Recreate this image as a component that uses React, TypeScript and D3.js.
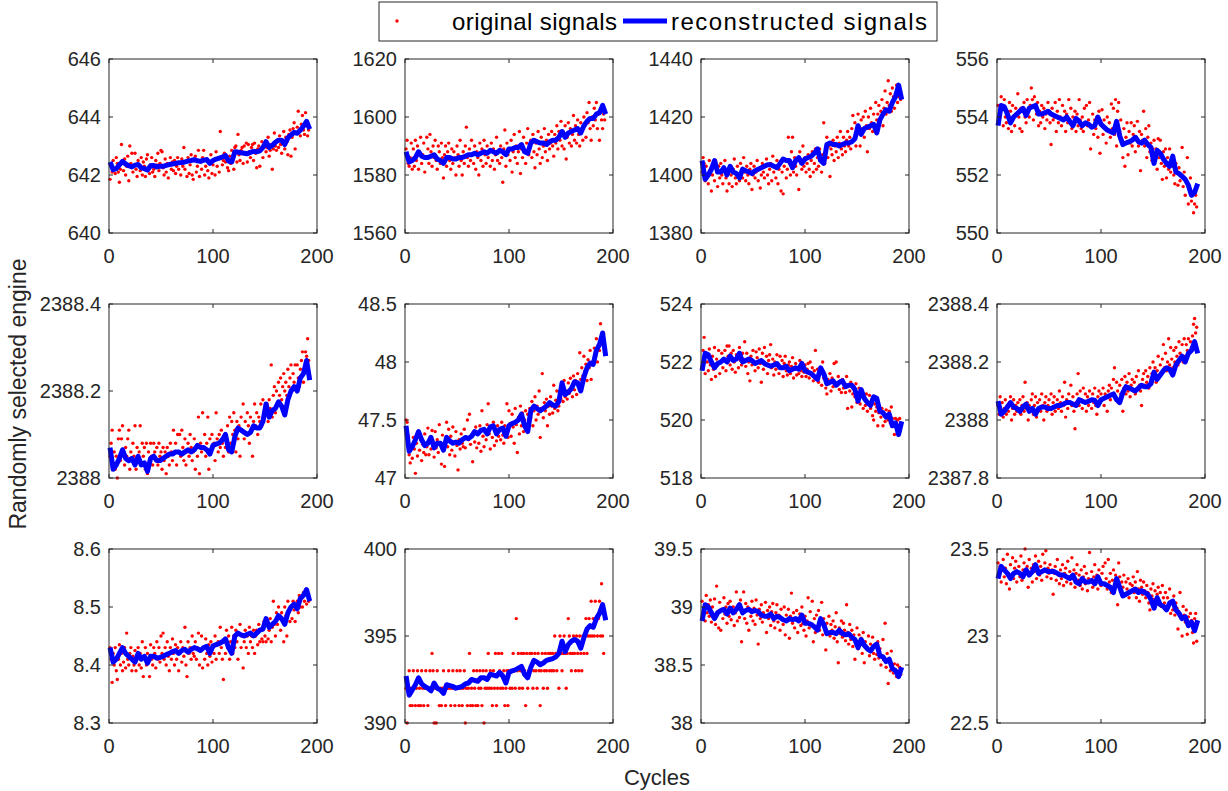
import React from 'react';
import * as d3 from 'd3';

// ---------- data ----------
const xTicks = [0, 100, 200];
const legendLabels = ['original signals', 'reconstructed signals'];
const xLabel = 'Cycles';
const yLabel = 'Randomly selected engine';

// reconstructed signals sampled at cycles 1,4,7,...,193
const blue1 = [642.45,642.18,642.22,642.35,642.47,642.38,642.32,642.28,642.34,642.36,642.25,642.22,642.17,642.32,642.33,642.28,642.30,642.30,642.33,642.36,642.38,642.40,642.42,642.43,642.45,642.48,642.50,642.53,642.49,642.47,642.51,642.53,642.40,642.50,642.55,642.58,642.62,642.67,642.48,642.45,642.80,642.79,642.77,642.75,642.73,642.78,642.82,642.80,642.83,642.95,643.15,642.95,643.02,643.13,643.20,643.20,643.05,643.28,643.38,643.47,643.44,643.55,643.68,643.85,643.58];
const blue2 = [1588,1584.5,1585,1586,1588,1586.5,1586,1586,1586.5,1587,1585.5,1585,1584,1586,1586,1585.5,1585.5,1586,1586,1586.5,1587,1587,1587.5,1587,1587.5,1588,1587.5,1588.5,1588,1587.5,1588.5,1588,1587,1589,1589,1589.5,1589.5,1590.5,1588,1587.5,1591,1592,1591.5,1591,1591,1590.5,1591.5,1592,1592,1593,1595,1593,1594.5,1595,1595.5,1596,1594.5,1597,1598.5,1599.5,1599.5,1601,1601.5,1604,1601];
const blue3 = [1405,1398.5,1400,1402,1405,1401,1401,1402.5,1400,1403,1401,1400.5,1399,1402,1401.5,1401,1400.5,1401.5,1402,1402.5,1403,1403.5,1403.5,1403,1402.5,1404,1405.5,1405,1405,1402.5,1405,1406,1404,1405.5,1406,1406.5,1407.5,1409,1405,1404,1410.5,1411,1410.5,1410.5,1410,1410.5,1411,1411,1411.5,1412.5,1417,1414,1416,1416.5,1417,1417.5,1414.5,1419,1421,1422.5,1422,1425,1427,1431,1426];
const blue4 = [553.7,554.4,554.35,554.1,553.8,554.0,554.1,554.2,554.3,554.05,554.3,554.35,554.4,554.1,554.1,554.15,554.2,554.1,554.05,554.0,553.95,553.9,554.0,553.85,553.7,553.95,553.85,553.7,553.8,553.75,553.65,553.7,554.0,553.75,553.65,553.55,553.5,553.45,553.85,553.35,553.05,553.1,553.15,553.2,553.3,553.15,553.1,553.2,553.05,552.95,552.4,552.85,552.75,552.55,552.4,552.3,552.65,552.1,552.05,551.95,551.85,551.65,551.3,551.4,551.7];
const blue5 = [2388.07,2388.02,2388.03,2388.045,2388.065,2388.045,2388.04,2388.045,2388.03,2388.05,2388.03,2388.035,2388.015,2388.045,2388.05,2388.04,2388.04,2388.045,2388.05,2388.055,2388.055,2388.06,2388.06,2388.055,2388.06,2388.065,2388.06,2388.065,2388.075,2388.07,2388.07,2388.065,2388.055,2388.075,2388.078,2388.08,2388.088,2388.1,2388.065,2388.06,2388.095,2388.115,2388.11,2388.105,2388.1,2388.105,2388.12,2388.115,2388.115,2388.13,2388.17,2388.14,2388.155,2388.16,2388.175,2388.165,2388.145,2388.18,2388.2,2388.21,2388.2,2388.23,2388.24,2388.27,2388.225];
const blue6 = [47.45,47.23,47.27,47.33,47.4,47.33,47.28,47.3,47.35,47.26,47.3,47.3,47.24,47.35,47.32,47.3,47.31,47.3,47.33,47.35,47.34,47.36,47.4,47.38,47.41,47.42,47.38,47.44,47.45,47.38,47.42,47.43,47.36,47.45,47.47,47.48,47.5,47.55,47.45,47.4,47.58,47.62,47.6,47.58,47.6,47.62,47.65,47.63,47.62,47.66,47.82,47.72,47.74,47.77,47.83,47.82,47.75,47.87,47.95,47.99,47.98,48.1,48.15,48.25,48.05];
const blue7 = [521.7,522.3,522.25,522.0,521.8,521.95,522.0,522.1,522.0,522.2,522.05,522.1,522.3,522.0,522.05,522.1,522.05,521.95,522.0,522.05,521.95,521.9,521.85,521.9,521.95,521.8,521.8,521.85,521.7,521.75,521.8,521.75,521.95,521.7,521.65,521.6,521.5,521.4,521.8,521.6,521.25,521.3,521.35,521.2,521.3,521.35,521.15,521.2,521.2,521.05,520.65,521.05,520.75,520.6,520.5,520.8,520.75,520.3,520.25,520.1,520.2,519.8,519.9,519.5,519.95];
const blue8 = [2388.065,2388.02,2388.03,2388.045,2388.06,2388.045,2388.04,2388.03,2388.045,2388.055,2388.03,2388.04,2388.02,2388.04,2388.045,2388.045,2388.04,2388.04,2388.045,2388.05,2388.05,2388.055,2388.06,2388.06,2388.055,2388.05,2388.07,2388.065,2388.06,2388.065,2388.07,2388.068,2388.05,2388.07,2388.075,2388.08,2388.085,2388.09,2388.07,2388.06,2388.095,2388.115,2388.11,2388.105,2388.1,2388.11,2388.12,2388.115,2388.115,2388.125,2388.165,2388.14,2388.155,2388.17,2388.18,2388.175,2388.155,2388.19,2388.205,2388.22,2388.2,2388.23,2388.24,2388.27,2388.23];
const blue9 = [8.43,8.405,8.41,8.42,8.43,8.42,8.415,8.41,8.405,8.42,8.41,8.415,8.403,8.415,8.415,8.412,8.413,8.415,8.418,8.42,8.423,8.425,8.42,8.425,8.427,8.422,8.427,8.43,8.428,8.425,8.43,8.432,8.42,8.433,8.435,8.437,8.44,8.445,8.43,8.42,8.45,8.455,8.452,8.45,8.453,8.455,8.45,8.455,8.46,8.462,8.48,8.465,8.47,8.475,8.485,8.48,8.47,8.49,8.5,8.505,8.497,8.515,8.52,8.53,8.51];
const blue10 = [392.7,391.6,391.9,392.2,392.6,392.25,392.1,392.0,391.85,392.3,392.0,391.9,391.7,392.2,392.15,392.1,392.0,392.05,392.1,392.25,392.3,392.5,392.45,392.4,392.6,392.6,392.5,392.8,392.75,392.7,392.9,392.7,392.3,392.9,393.0,393.05,393.15,393.25,392.8,392.6,393.2,393.6,393.5,393.35,393.45,393.6,393.65,393.7,393.8,394.0,394.7,394.1,394.5,394.7,394.8,394.7,394.3,394.9,395.4,395.6,395.5,396.0,396.3,396.8,395.9];
const blue11 = [38.88,39.02,39.0,38.95,38.9,38.95,38.97,38.98,38.94,38.99,38.95,38.98,39.02,38.95,38.97,38.98,38.96,38.97,38.96,38.93,38.92,38.92,38.94,38.9,38.92,38.91,38.89,38.88,38.9,38.89,38.9,38.88,38.93,38.86,38.86,38.85,38.83,38.8,38.9,38.85,38.77,38.78,38.78,38.77,38.8,38.77,38.76,38.77,38.74,38.72,38.65,38.72,38.67,38.64,38.62,38.66,38.68,38.58,38.57,38.53,38.55,38.47,38.45,38.4,38.48];
const blue12 = [23.33,23.4,23.38,23.36,23.33,23.36,23.37,23.36,23.34,23.38,23.35,23.37,23.41,23.36,23.37,23.38,23.37,23.37,23.37,23.36,23.35,23.35,23.34,23.33,23.35,23.31,23.3,23.33,23.31,23.31,23.32,23.3,23.34,23.3,23.3,23.29,23.28,23.25,23.33,23.28,23.23,23.24,23.25,23.26,23.27,23.25,23.26,23.25,23.24,23.21,23.16,23.22,23.18,23.17,23.15,23.19,23.2,23.15,23.13,23.1,23.11,23.06,23.08,23.03,23.09];

// original signals at cycles 1..192
const red1 = [641.85,642.3,642.1,642.5,642.2,642.05,642.6,642.4,642.1,641.75,
642.2,643.05,642.4,642.15,642.55,642.0,642.3,642.65,641.8,643.0,
642.4,642.75,642.1,642.3,642.75,642.2,641.95,642.5,642.35,642.15,
642.6,642.0,642.45,642.3,641.95,642.55,642.7,642.2,642.05,642.35,
642.6,642.1,642.2,641.95,642.5,642.35,642.75,642.15,642.4,642.85,
642.8,642.25,642.0,642.55,642.1,642.4,641.9,642.35,642.6,642.2,
642.45,642.15,642.5,642.05,642.3,642.6,642.2,642.4,642.0,642.55,
642.3,642.95,642.2,642.45,641.95,642.6,642.05,642.35,642.7,642.0,
641.85,642.5,642.65,642.1,642.3,642.85,641.95,642.45,642.2,642.6,
642.85,642.0,642.3,642.55,642.15,641.9,642.45,642.7,642.05,642.35,
642.5,642.0,642.8,642.3,642.55,642.1,643.5,642.6,642.35,642.5,
642.75,642.45,642.6,642.25,642.15,642.65,642.4,642.85,642.55,642.2,
642.95,643.0,642.45,643.4,642.7,642.5,642.85,642.95,642.4,643.0,
642.75,643.1,642.45,643.05,642.8,642.6,642.95,643.05,642.5,643.1,
642.75,642.25,642.9,643.0,642.3,642.85,643.15,642.6,642.95,643.05,
642.8,642.95,643.3,642.65,642.85,643.05,642.2,642.9,643.45,643.0,
642.85,643.15,642.95,643.35,643.05,642.75,643.2,643.5,642.9,643.3,
643.15,642.7,643.4,643.55,642.65,643.3,643.6,643.8,642.9,643.45,
643.65,644.2,643.5,643.35,643.75,644.05,643.55,643.4,644.15,643.7,
643.35,643.55];
const red2 = [1589,1592,1584,1583,1586,1591,1582,1589,1583,1592,
1585,1590,1582,1588,1593,1584,1587,1591,1581,1586,
1593,1589,1584,1594,1588,1583,1590,1586,1592,1585,
1582,1590,1588,1584,1591,1586,1579,1587,1590,1583,
1588,1591,1585,1582,1589,1584,1588,1586,1580,1590,
1587,1583,1592,1585,1580,1588,1584,1590,1596.5,1586,
1583,1589,1585,1592,1587,1584,1590,1582,1588,1586,
1580,1591,1585,1589,1583,1592,1587,1584,1590,1586,
1588,1583,1591,1585,1589,1582,1587,1593,1585,1588,
1584,1590,1586,1577.5,1589,1595.5,1583,1591,1587,1589,
1585,1592,1581,1588,1594,1586,1590,1584,1588,1595,
1580.5,1589,1586,1593,1588,1584,1591,1596,1587,1590,
1592,1586,1594,1588,1582.5,1591,1587,1595,1589,1584,
1593,1586,1590,1596,1588,1592,1585,1594,1589,1591,
1595,1590,1586.5,1594,1591,1597,1589,1595,1592,1598.5,
1590,1595,1589,1597,1585.5,1593,1598,1591,1596,1590,
1594,1600.5,1592,1597,1591,1599,1594,1590,1598,1596,
1592,1600,1597,1593,1601.5,1598,1605,1596,1592,1600,
1597,1603,1599,1605,1596,1601,1592,1602,1599,1596,
1601,1599];
const red3 = [1401,1406,1404,1398,1403,1400,1397,1405,1402,1394.5,
1400,1403,1398,1405,1401,1396,1403,1399,1404,1400,
1397,1402,1405,1399,1394.5,1401,1397,1403,1400,1396,
1402,1405.5,1399,1397,1403,1400,1398,1404,1401,1399,
1406,1401,1398,1403,1400,1397,1402,1404,1395,1400,
1403,1399,1401,1405,1398,1402,1395.5,1400,1404,1401,
1399,1403,1405.5,1400,1397,1402,1404,1398,1406.5,1401,
1403,1399,1405,1397,1402,1404,1394.5,1401,1393.5,1403,
1405,1399,1402,1413,1404,1400,1408,1413,1401,1406,
1403,1400,1405,1395,1408,1404,1402,1410,1403,1406,
1401,1404,1407,1402,1399.5,1405,1408,1401,1404,1409,
1402,1406,1403,1409,1405,1401,1407,1418,1404,1409,
1413,1406,1410,1399.5,1409,1407,1412,1405,1410,1408,
1413,1406,1411,1415,1409,1407,1413,1410,1408,1412,
1415,1410,1413,1409,1416,1420.5,1412,1418,1410,1414,
1421,1415,1410,1419,1416,1420,1413,1422,1417,1408,
1420,1416,1423,1418,1415,1421,1417,1425,1419,1421,
1424,1418,1422,1426,1417,1423,1429,1421,1425,1432.5,
1424,1428,1422,1430,1427,1423,1428,1431,1425,1427,
1429,1426];
const red4 = [554.4,553.9,554.1,554.7,554.3,553.7,554.6,554.0,553.8,554.2,
553.6,554.5,554.2,553.5,554.4,554.0,553.7,554.3,554.1,554.8,
554.0,553.6,554.3,553.5,554.2,554.5,554.0,553.8,554.6,554.2,
554.0,554.4,555.0,554.6,553.9,554.7,554.3,554.1,554.5,553.7,
554.2,553.8,554.4,554.0,554.3,553.6,554.1,553.9,554.5,554.2,
553.8,553.05,554.3,553.9,554.0,554.5,553.5,554.2,553.8,554.6,
554.0,553.7,554.4,553.9,554.2,553.5,554.1,553.8,554.6,553.9,
554.3,553.6,554.0,553.8,554.2,553.5,554.1,553.7,554.6,553.9,
553.6,554.0,553.5,554.3,553.8,554.4,553.7,553.9,554.5,552.9,
553.7,554.1,553.4,553.9,553.6,554.0,553.3,554.2,552.75,553.8,
554.25,553.4,553.9,553.6,553.1,554.0,553.5,553.8,553.3,554.45,
553.6,554.3,553.4,554.6,553.0,554.2,554.5,553.5,553.9,553.2,
552.6,553.6,552.3,553.3,553.8,552.7,553.5,553.1,553.8,553.0,
553.4,553.7,552.8,553.3,553.85,553.0,553.5,552.15,553.4,553.2,
554.2,553.0,553.6,552.6,553.3,553.7,552.8,553.1,552.5,552.9,
553.2,552.5,552.9,552.2,553.25,552.6,553.2,552.4,551.85,552.8,
552.3,552.9,551.9,552.6,552.2,552.9,552.1,552.5,552.3,552.0,
551.7,552.4,552.15,551.65,552.25,551.8,552.0,552.95,551.6,552.1,
551.3,551.8,552.6,551.0,551.5,551.9,551.1,551.4,550.7,551.0,
551.3,550.9];
const red5 = [2388.05,2388.08,2388.11,2388.03,2388.06,2388.02,2388.05,2388.0,2388.09,2388.11,
2388.04,2388.09,2388.12,2388.06,2388.03,2388.07,2388.05,2388.09,2388.11,2388.02,
2388.06,2388.04,2388.08,2388.05,2388.12,2388.02,2388.07,2388.04,2388.06,2388.12,
2388.03,2388.08,2388.05,2388.07,2388.02,2388.08,2388.01,2388.06,2388.04,2388.08,
2388.05,2388.03,2388.08,2388.06,2388.04,2388.07,2388.03,2388.08,2388.05,2388.06,
2388.02,2388.07,2388.04,2388.06,2388.01,2388.07,2388.05,2388.03,2388.08,2388.06,
2388.04,2388.11,2388.06,2388.08,2388.03,2388.1,2388.06,2388.1,2388.05,2388.11,
2388.07,2388.04,2388.09,2388.03,2388.06,2388.08,2388.05,2388.1,2388.07,2388.04,
2388.06,2388.09,2388.02,2388.07,2388.05,2388.14,2388.01,2388.08,2388.06,2388.15,
2388.07,2388.1,2388.05,2388.08,2388.14,2388.02,2388.09,2388.06,2388.1,2388.07,
2388.08,2388.04,2388.15,2388.09,2388.06,2388.1,2388.07,2388.11,2388.08,2388.05,
2388.1,2388.07,2388.09,2388.12,2388.06,2388.14,2388.08,2388.13,2388.1,2388.15,
2388.11,2388.06,2388.13,2388.09,2388.12,2388.05,2388.14,2388.11,2388.17,2388.09,
2388.13,2388.1,2388.15,2388.12,2388.08,2388.14,2388.11,2388.05,2388.13,2388.17,
2388.12,2388.15,2388.1,2388.14,2388.13,2388.17,2388.12,2388.18,2388.14,2388.16,
2388.15,2388.17,2388.13,2388.18,2388.16,2388.26,2388.14,2388.19,2388.21,2388.15,
2388.2,2388.17,2388.22,2388.19,2388.23,2388.18,2388.21,2388.24,2388.2,2388.22,
2388.19,2388.25,2388.21,2388.23,2388.26,2388.2,2388.24,2388.22,2388.26,2388.21,
2388.26,2388.23,2388.21,2388.25,2388.27,2388.29,2388.22,2388.25,2388.29,2388.28,
2388.32,2388.27];
const red6 = [47.5,47.48,47.36,47.2,47.13,47.28,47.17,47.35,47.25,47.04,
47.3,47.19,47.4,47.24,47.33,47.15,47.29,47.22,47.38,47.2,
47.27,47.43,47.2,47.35,47.25,47.41,47.31,47.18,47.4,47.26,
47.33,47.22,47.46,47.3,47.12,47.37,47.24,47.1,47.3,47.48,
47.27,47.42,47.2,47.36,47.24,47.44,47.3,47.19,47.4,47.28,
47.07,47.33,47.25,47.38,47.3,47.27,47.42,47.26,47.35,47.5,
47.33,47.55,47.29,47.37,47.14,47.4,47.31,47.44,47.26,47.38,
47.3,47.45,47.23,47.58,47.36,47.27,47.42,47.33,47.46,47.64,
47.38,47.25,47.44,47.35,47.48,47.28,47.4,47.32,47.45,47.36,
47.42,47.33,47.48,47.37,47.3,47.45,47.4,47.64,47.35,47.58,
47.47,47.36,47.55,47.44,47.3,47.6,47.46,47.22,47.52,47.38,
47.62,47.45,47.56,47.4,47.5,47.58,47.42,47.55,47.48,47.6,
47.52,47.66,47.45,47.58,47.7,47.5,47.62,47.55,47.75,47.35,
47.6,47.9,47.52,47.65,47.58,47.68,47.45,47.62,47.55,47.7,
47.62,47.56,47.8,47.6,47.67,47.75,47.58,47.62,47.72,47.68,
47.78,47.66,47.84,47.7,47.75,47.68,47.82,47.73,47.86,47.78,
47.7,47.88,47.76,47.84,47.72,47.9,47.8,48.08,47.85,47.95,
47.88,48.05,47.92,47.98,47.84,48.02,47.95,48.1,47.85,48.0,
47.98,48.12,48.05,48.2,48.0,48.15,48.1,48.33,48.22,48.18,
48.25,48.1];
const red7 = [521.8,522.4,522.85,521.6,522.3,522.0,521.7,522.45,521.9,521.4,
522.2,521.75,522.5,521.5,522.1,521.9,522.4,521.6,522.0,522.3,
521.8,522.1,522.4,521.7,522.55,522.2,522.55,521.9,522.3,521.75,
522.4,522.0,521.65,522.25,522.1,521.8,522.5,522.05,521.9,522.3,
522.1,522.7,521.85,522.3,521.6,522.0,521.35,522.2,521.9,522.4,
522.0,521.7,522.35,522.15,521.8,522.45,521.95,521.3,522.3,521.75,
522.5,521.9,522.2,521.6,522.05,522.25,522.6,521.8,522.1,521.55,
522.0,521.75,522.25,521.9,521.6,522.2,521.8,522.05,521.5,521.95,
522.2,521.7,521.55,521.9,522.0,521.6,521.85,522.15,521.45,521.75,
521.95,521.55,521.8,521.6,522.05,521.7,521.5,521.85,521.65,521.9,
521.5,521.75,521.95,521.45,522.0,521.6,521.8,521.35,521.7,522.4,
521.5,521.75,521.3,521.6,521.8,521.2,522.0,521.45,521.55,521.1,
520.9,521.4,521.25,521.6,521.0,521.45,521.15,521.95,521.3,522.0,
521.2,521.5,521.05,521.35,520.95,521.4,521.1,521.25,520.95,521.5,
520.4,521.2,521.0,521.3,520.45,520.9,521.15,520.8,521.25,520.6,
520.95,521.1,520.55,520.85,521.0,520.4,520.75,520.5,520.9,520.3,
520.6,520.85,520.4,520.7,520.15,520.0,520.55,520.3,520.45,519.8,
520.25,520.35,520.1,520.4,519.8,520.2,519.95,520.35,520.1,520.0,
520.3,519.9,520.45,520.05,519.85,519.5,520.05,519.8,520.0,519.55,
520.05,519.9];
const red8 = [2388.05,2388.02,2388.08,2388.03,2388.06,2388.01,2388.04,2388.07,2388.02,2388.05,
2388.03,2388.06,2388.08,2388.0,2388.04,2388.07,2388.02,2388.05,2388.03,2388.06,
2388.04,2388.07,2388.02,2388.05,2388.08,2388.03,2388.13,2388.04,2388.06,2388.0,
2388.05,2388.03,2388.07,2388.09,2388.02,2388.05,2388.08,2388.01,2388.06,2388.04,
2388.07,2388.03,2388.09,2388.05,2388.0,2388.06,2388.08,2388.03,2388.05,2388.07,
2388.04,2388.09,2388.02,2388.06,2388.08,2388.03,2388.05,2388.07,2388.04,2388.1,
2388.06,2388.03,2388.08,2388.05,2388.13,2388.01,2388.07,2388.04,2388.09,2388.06,
2388.12,2388.05,2388.08,2388.03,2387.97,2388.06,2388.09,2388.16,2388.05,2388.1,
2388.07,2388.04,2388.11,2388.06,2388.09,2388.03,2388.08,2388.05,2388.1,2388.07,
2388.04,2388.09,2388.06,2388.11,2388.05,2388.02,2388.08,2388.1,2388.06,2388.09,
2388.07,2388.11,2388.05,2388.09,2388.08,2388.03,2388.1,2388.12,2388.07,2388.11,
2388.09,2388.14,2388.18,2388.08,2388.13,2388.1,2388.06,2388.12,2388.09,2388.14,
2388.03,2388.11,2388.15,2388.09,2388.13,2388.1,2388.16,2388.08,2388.12,2388.14,
2388.1,2388.13,2388.09,2388.15,2388.11,2388.17,2388.12,2388.1,2388.05,2388.14,
2388.16,2388.12,2388.17,2388.13,2388.15,2388.11,2388.18,2388.14,2388.16,2388.2,
2388.15,2388.18,2388.13,2388.17,2388.22,2388.15,2388.19,2388.16,2388.21,2388.26,
2388.18,2388.23,2388.17,2388.2,2388.28,2388.19,2388.25,2388.21,2388.18,2388.24,
2388.2,2388.25,2388.22,2388.19,2388.27,2388.23,2388.21,2388.26,2388.2,2388.28,
2388.22,2388.26,2388.24,2388.28,2388.23,2388.27,2388.25,2388.29,2388.33,2388.35,
2388.3,2388.32];
const red9 = [8.43,8.41,8.37,8.42,8.4,8.43,8.39,8.375,8.41,8.435,
8.4,8.42,8.39,8.405,8.43,8.395,8.455,8.41,8.4,8.42,
8.43,8.39,8.415,8.4,8.425,8.39,8.41,8.43,8.4,8.42,
8.395,8.44,8.38,8.415,8.43,8.4,8.42,8.41,8.38,8.435,
8.41,8.4,8.43,8.42,8.395,8.44,8.41,8.43,8.405,8.45,
8.42,8.455,8.41,8.43,8.4,8.44,8.415,8.39,8.43,8.41,
8.445,8.42,8.4,8.435,8.41,8.43,8.39,8.42,8.44,8.405,
8.43,8.415,8.465,8.4,8.38,8.44,8.42,8.43,8.41,8.45,
8.42,8.415,8.44,8.41,8.43,8.455,8.4,8.425,8.45,8.395,
8.43,8.41,8.445,8.42,8.4,8.435,8.415,8.44,8.405,8.43,
8.42,8.45,8.41,8.435,8.44,8.42,8.465,8.43,8.41,8.375,
8.44,8.42,8.46,8.43,8.45,8.41,8.44,8.465,8.42,8.45,
8.43,8.46,8.44,8.41,8.455,8.47,8.43,8.45,8.395,8.44,
8.46,8.43,8.45,8.42,8.465,8.44,8.45,8.43,8.46,8.42,
8.45,8.46,8.435,8.47,8.44,8.46,8.445,8.44,8.475,8.45,
8.44,8.47,8.445,8.46,8.48,8.44,8.465,8.51,8.47,8.45,
8.49,8.47,8.5,8.48,8.46,8.49,8.475,8.44,8.5,8.485,
8.45,8.51,8.49,8.475,8.5,8.48,8.51,8.495,8.475,8.5,
8.51,8.49,8.52,8.5,8.515,8.5,8.525,8.51,8.53,8.505,
8.52,8.51];
const red10 = [392,390,392,393,391,392,391,393,392,391,
392,393,391,392,391,393,392,391,392,393,
392,391,392,393,392,394,393,390,392,390,
393,392,391,392,391,392,393,392,391,392,
392,393,392,391,392,393,392,391,392,393,
392,391,393,392,391,392,393,390,392,391,
392,394,391,392,391,393,392,391,393,391,
392,393,392,391,393,390,392,393,392,394,
392,393,392,391,393,392,394,391,392,394,
393,392,394,392,393,391,392,393,391,393,
392,393,392,394,393,392,396,393,394,392,
393,394,392,394,393,391,394,392,393,394,
393,394,392,393,394,393,392,394,393,391,
393,394,392,393,394,393,392,394,393,394,
393,394,393,395,394,393,394,392,395,394,
393,394,395,394,392,394,396,395,394,393,
394,395,394,393,395,394,393,395,394,393,
395,394,395,396,394,395,396,395,397,395,
396,395,397,396,395,396,397,395,398,395,
394,396];
const red11 = [39.05,38.9,38.98,38.88,39.1,38.95,39.02,38.92,39.06,38.87,
39.0,38.93,39.07,38.85,39.18,38.96,38.82,39.04,38.8,38.98,
38.9,39.08,38.94,39.0,38.86,39.03,38.92,39.05,38.89,38.97,
39.0,38.84,38.95,39.13,38.88,39.02,38.91,39.06,38.7,38.96,
39.13,38.9,39.03,38.86,39.0,38.8,38.97,38.92,39.05,38.88,
38.99,38.85,39.06,38.93,38.68,38.98,38.9,39.02,38.87,38.95,
38.92,39.04,38.78,38.97,38.9,39.0,38.84,38.96,39.03,38.88,
38.82,38.95,39.02,38.87,38.93,38.8,38.98,38.9,38.85,39.0,
38.76,38.93,38.88,38.98,38.73,38.92,39.12,38.86,38.95,38.82,
38.9,38.97,38.78,38.88,38.94,38.84,39.0,38.86,38.8,38.92,
38.75,38.88,39.08,38.82,38.96,38.85,39.05,38.7,38.9,38.78,
38.93,38.83,38.97,38.8,38.88,39.04,38.76,38.9,38.84,38.63,
38.86,38.78,38.92,38.75,38.85,38.8,38.88,38.73,38.83,38.95,
38.7,38.52,38.82,38.77,38.88,38.74,38.86,38.8,38.71,39.02,
38.78,38.68,38.85,38.72,38.8,38.66,38.76,38.55,38.7,38.82,
38.64,38.76,38.69,38.73,38.6,38.78,38.52,38.7,38.66,38.63,
38.75,38.58,38.68,38.62,38.74,38.6,38.55,38.66,38.59,38.7,
38.56,38.64,38.5,38.58,38.72,38.54,38.86,38.48,38.6,38.34,
38.53,38.45,38.62,38.5,38.43,38.51,38.46,38.4,38.5,38.44,
38.48,38.42];
const red12 = [23.42,23.36,23.4,23.31,23.38,23.44,23.34,23.39,23.3,23.47,
23.36,23.27,23.41,23.35,23.45,23.33,23.39,23.43,23.31,23.37,
23.4,23.34,23.46,23.32,23.38,23.42,23.5,23.36,23.4,23.28,
23.44,23.35,23.39,23.31,23.41,23.37,23.46,23.33,23.38,23.43,
23.35,23.4,23.32,23.47,23.37,23.42,23.49,23.34,23.39,23.36,
23.41,23.33,23.38,23.24,23.36,23.4,23.32,23.44,23.35,23.3,
23.38,23.33,23.41,23.29,23.36,23.39,23.31,23.43,23.34,23.37,
23.3,23.45,23.33,23.38,23.28,23.36,23.41,23.32,23.35,23.29,
23.38,23.27,23.34,23.4,23.3,23.36,23.26,23.33,23.48,23.31,
23.37,23.28,23.34,23.41,23.3,23.35,23.27,23.38,23.32,23.29,
23.36,23.4,23.3,23.42,23.33,23.27,23.44,23.31,23.36,23.25,
23.32,23.38,23.28,23.35,23.3,23.18,23.42,23.34,23.26,23.31,
23.28,23.35,23.24,23.31,23.27,23.33,23.22,23.3,23.26,23.29,
23.34,23.25,23.31,23.22,23.37,23.27,23.2,23.32,23.28,23.24,
23.31,23.26,23.22,23.29,23.25,23.19,23.15,23.27,23.23,23.3,
23.21,23.26,23.18,23.24,23.28,23.2,23.25,23.17,23.29,23.22,
23.19,23.25,23.16,23.22,23.18,23.27,23.13,23.2,23.15,23.23,
23.12,23.19,23.16,23.04,23.14,23.25,23.1,23.0,23.17,23.12,
23.08,23.15,23.01,23.11,23.06,23.13,23.09,23.02,22.96,23.1,
23.13,22.97];

const yDomains = [[640,646],[1560,1620],[1380,1440],[550,556],[2388,2388.4],[47,48.5],[518,524],[2387.8,2388.4],[8.3,8.6],[390,400],[38,39.5],[22.5,23.5]];
const yTickValues = [[640,642,644,646],[1560,1580,1600,1620],[1380,1400,1420,1440],[550,552,554,556],[2388,2388.2,2388.4],[47,47.5,48,48.5],[518,520,522,524],[2387.8,2388,2388.2,2388.4],[8.3,8.4,8.5,8.6],[390,395,400],[38,38.5,39,39.5],[22.5,23,23.5]];
const redSeries = [red1,red2,red3,red4,red5,red6,red7,red8,red9,red10,red11,red12];
const blueSeries = [blue1,blue2,blue3,blue4,blue5,blue6,blue7,blue8,blue9,blue10,blue11,blue12];

// ---------- layout ----------
const W = 1228, H = 791;
const colLeft = [109, 405, 701, 997];
const rowTop = [59, 304, 549];
const PW = 208, PH = 174;
const FONT = "'Liberation Sans', Arial, Helvetica, sans-serif";
const AX = '#262626';
const RED = '#ff0000';
const BLUE = '#0000ff';
const TICK = 4;

export default function App() {
  return (
    <svg width={W} height={H} style={{ position: 'absolute', left: 0, top: 0 }} fontFamily={FONT}>
      <rect width={W} height={H} fill="#ffffff" />
      {yDomains.map((dom, i) => {
        const L = colLeft[i % 4];
        const T = rowTop[Math.floor(i / 4)];
        const x = d3.scaleLinear().domain([0, 200]).range([L, L + PW]);
        const y = d3.scaleLinear().domain(dom).range([T + PH, T]);
        const line = d3.line<number>().x((_, j) => x(1 + 3 * j)).y(d => y(d));
        return (
          <g key={i}>
            <rect x={L} y={T} width={PW} height={PH} fill="#ffffff" />
            {redSeries[i].map((v, j) => (
              <circle key={j} cx={x(j + 1)} cy={y(v)} r={1.7} fill={RED} />
            ))}
            <path d={line(blueSeries[i]) || ''} fill="none" stroke={BLUE} strokeWidth={5} strokeLinejoin="round" strokeLinecap="butt" />
            <rect x={L} y={T} width={PW} height={PH} fill="none" stroke={AX} strokeWidth={1} />
            {xTicks.map(t => (
              <g key={'x' + t}>
                <line x1={x(t)} x2={x(t)} y1={T + PH} y2={T + PH - TICK} stroke={AX} />
                <line x1={x(t)} x2={x(t)} y1={T} y2={T + TICK} stroke={AX} />
                <text x={x(t)} y={T + PH + 30} textAnchor="middle" fontSize={20} fill={AX}>{t}</text>
              </g>
            ))}
            {yTickValues[i].map(t => (
              <g key={'y' + t}>
                <line x1={L} x2={L + TICK} y1={y(t)} y2={y(t)} stroke={AX} />
                <line x1={L + PW} x2={L + PW - TICK} y1={y(t)} y2={y(t)} stroke={AX} />
                <text x={L - 8} y={y(t)} dy="0.35em" textAnchor="end" fontSize={20} fill={AX}>{String(t)}</text>
              </g>
            ))}
          </g>
        );
      })}
      {/* legend */}
      <rect x={379} y={2} width={558} height={39} fill="#ffffff" stroke={AX} strokeWidth={1} />
      <circle cx={397} cy={21} r={1.7} fill={RED} />
      <text x={452} y={30} fontSize={24} fill="#000000" textLength={165} lengthAdjust="spacing">{legendLabels[0]}</text>
      <line x1={623} x2={667} y1={21} y2={21} stroke={BLUE} strokeWidth={5} />
      <text x={671} y={30} fontSize={24} fill="#000000" textLength={256} lengthAdjust="spacing">{legendLabels[1]}</text>
      {/* axis labels */}
      <text x={657} y={785} textAnchor="middle" fontSize={22} fill={AX}>{xLabel}</text>
      <text transform="translate(26,394) rotate(-90)" textAnchor="middle" fontSize={23} fill={AX}>{yLabel}</text>
    </svg>
  );
}
